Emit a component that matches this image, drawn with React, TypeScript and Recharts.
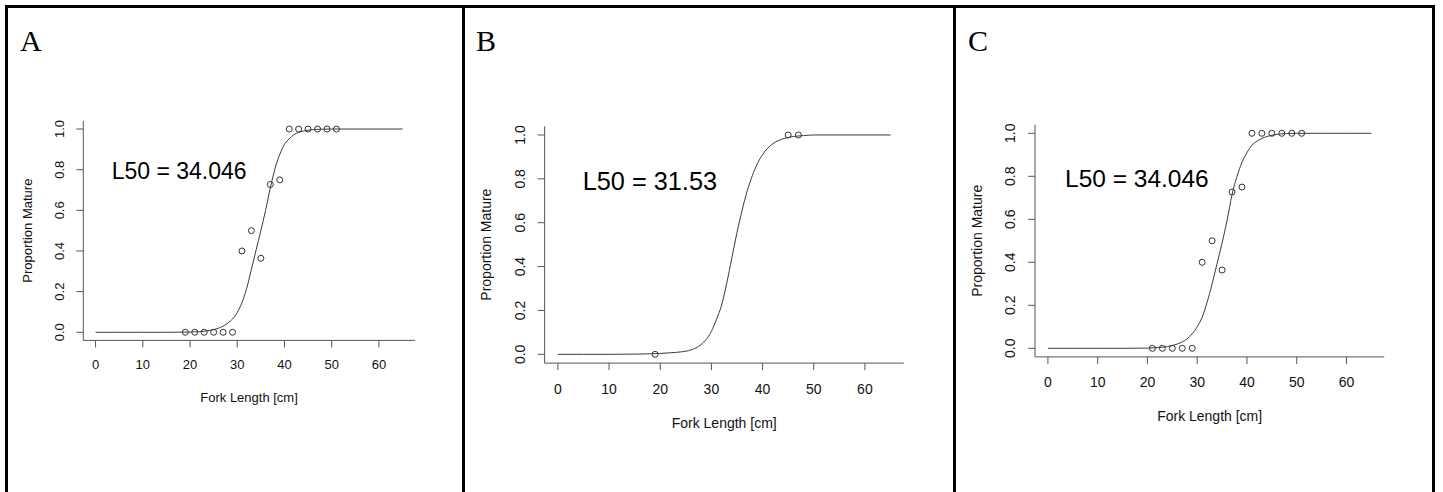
import React from 'react';
import { ComposedChart, Line, Scatter, XAxis, YAxis } from 'recharts';

const xTicks = [0, 10, 20, 30, 40, 50, 60];
const yTicks = [0, 0.2, 0.4, 0.6, 0.8, 1];

// fitted curves
const curveX = [0, 5, 10, 15, 20, 22, 24, 26, 28, 30, 31, 32, 33, 34, 35, 36, 37, 38, 39, 40, 41, 42, 44, 46, 48, 50, 55, 60, 65];
const curveA = [0, 0, 0, 0, 0.001, 0.003, 0.008, 0.02, 0.045, 0.097, 0.146, 0.216, 0.31, 0.405, 0.5, 0.6, 0.71, 0.805, 0.875, 0.925, 0.952, 0.972, 0.99, 0.997, 0.999, 1, 1, 1, 1];
const curveB = [0, 0, 0, 0.001, 0.004, 0.007, 0.011, 0.02, 0.045, 0.105, 0.16, 0.225, 0.325, 0.44, 0.555, 0.657, 0.745, 0.815, 0.87, 0.91, 0.94, 0.96, 0.983, 0.993, 0.997, 1, 1, 1, 1];
const curveC = [0, 0, 0, 0, 0.001, 0.003, 0.008, 0.02, 0.045, 0.1, 0.145, 0.215, 0.3, 0.395, 0.49, 0.595, 0.715, 0.8, 0.865, 0.91, 0.945, 0.963, 0.985, 0.995, 0.999, 1, 1, 1, 1];

// observed proportions
const obsXA = [19, 21, 23, 25, 27, 29, 31, 33, 35, 37, 39, 41, 43, 45, 47, 49, 51];
const obsYA = [0, 0, 0, 0, 0, 0, 0.4, 0.5, 0.364, 0.727, 0.75, 1, 1, 1, 1, 1, 1];
const obsXB = [19, 45, 47];
const obsYB = [0, 1, 1];
const obsXC = [21, 23, 25, 27, 29, 31, 33, 35, 37, 39, 41, 43, 45, 47, 49, 51];
const obsYC = [0, 0, 0, 0, 0, 0.4, 0.5, 0.364, 0.727, 0.75, 1, 1, 1, 1, 1, 1];

const zip = (xs: number[], ys: number[]) => xs.map((x, i) => ({ x, y: ys[i] }));

const AX = '#555';
const INK = '#111';
const SANS = '"Liberation Sans", Arial, sans-serif';

interface PanelProps {
  letter: string;
  l50: string;
  curve: number[];
  obsX: number[];
  obsY: number[];
  x0: number; // left edge of chart box on page
  w: number;
  plot: { l: number; r: number; t: number; b: number };
  font: number;
  xLabDy: number;
  yLabDx: number;
  xTitleY: number;
  yTitleX: number;
  l50Pos: { x: number; y: number; size: number };
  letterX: number;
}

function Panel(p: PanelProps) {
  const H = 492;
  const yW = 40;
  const xH = 30;
  const margin = {
    top: p.plot.t,
    bottom: H - p.plot.b - xH,
    left: p.plot.l - p.x0 - yW,
    right: p.x0 + p.w - p.plot.r,
  };
  const midX = (p.plot.l + p.plot.r) / 2 - p.x0;
  const midY = (p.plot.t + p.plot.b) / 2;

  const XTick = (t: any) => (
    <text x={t.x} y={t.y + p.xLabDy} textAnchor="middle" dominantBaseline="central"
      fontFamily={SANS} fontSize={p.font} fill={INK}>
      {t.payload.value}
    </text>
  );
  const YTick = (t: any) => {
    const cx = t.x + p.yLabDx;
    return (
      <text x={cx} y={t.y} transform={`rotate(-90, ${cx}, ${t.y})`} textAnchor="middle"
        dominantBaseline="central" fontFamily={SANS} fontSize={p.font} fill={INK}>
        {Number(t.payload.value).toFixed(1)}
      </text>
    );
  };

  return (
    <div style={{ position: 'absolute', left: p.x0, top: 0, width: p.w, height: H }}>
      <ComposedChart width={p.w} height={H} margin={margin}>
        <XAxis type="number" dataKey="x" domain={[-2.6, 67.6]} ticks={xTicks} allowDataOverflow
          height={xH} stroke={AX} tickSize={7} tickLine={{ stroke: AX }} tick={XTick} interval={0} />
        <YAxis type="number" dataKey="y" domain={[-0.04, 1.04]} ticks={yTicks} allowDataOverflow
          width={yW} stroke={AX} tickSize={7} tickLine={{ stroke: AX }} tick={YTick} interval={0} />
        <Line data={zip(curveX, p.curve)} dataKey="y" type="monotone" dot={false} stroke="#3a3a3a"
          strokeWidth={1} isAnimationActive={false} />
        <Scatter data={zip(p.obsX, p.obsY)} dataKey="y" isAnimationActive={false}
          shape={(s: any) => <circle cx={s.cx} cy={s.cy} r={3} fill="none" stroke="#333" strokeWidth={1} />} />
      </ComposedChart>
      <svg width={p.w} height={H} style={{ position: 'absolute', left: 0, top: 0, pointerEvents: 'none' }}>
        <text x={p.letterX - p.x0} y={50.5} fontFamily='"Liberation Serif", "Times New Roman", serif'
          fontSize={30} fill="#000">{p.letter}</text>
        <text x={p.l50Pos.x - p.x0} y={p.l50Pos.y} dominantBaseline="central" fontFamily={SANS}
          fontSize={p.l50Pos.size} fill="#000">{p.l50}</text>
        <text x={midX} y={p.xTitleY} textAnchor="middle" dominantBaseline="central" fontFamily={SANS}
          fontSize={p.font} fill={INK}>Fork Length [cm]</text>
        <text x={p.yTitleX - p.x0} y={midY} transform={`rotate(-90, ${p.yTitleX - p.x0}, ${midY})`}
          textAnchor="middle" dominantBaseline="central" fontFamily={SANS} fontSize={p.font} fill={INK}>
          Proportion Mature
        </text>
      </svg>
    </div>
  );
}

export default function App() {
  const border = (l: number, t: number, w: number, h: number) => (
    <div style={{ position: 'absolute', left: l, top: t, width: w, height: h, background: '#000' }} />
  );
  return (
    <div style={{ position: 'absolute', left: 0, top: 0, width: 1443, height: 492, background: '#fff', overflow: 'hidden' }}>
      <Panel letter="A" l50="L50 = 34.046" curve={curveA} obsX={obsXA} obsY={obsYA}
        x0={8} w={454} plot={{ l: 83.3, r: 414.8, t: 120.9, b: 340.4 }} font={13}
        xLabDy={14.6} yLabDx={-14.3} xTitleY={397} yTitleX={28}
        l50Pos={{ x: 111.7, y: 171, size: 23 }} letterX={20} />
      <Panel letter="B" l50="L50 = 31.53" curve={curveB} obsX={obsXB} obsY={obsYB}
        x0={465} w={488} plot={{ l: 544.6, r: 903.8, t: 126.2, b: 363.1 }} font={14}
        xLabDy={16.9} yLabDx={-15.5} xTitleY={423.3} yTitleX={486}
        l50Pos={{ x: 582.7, y: 180.5, size: 25.3 }} letterX={476} />
      <Panel letter="C" l50="L50 = 34.046" curve={curveC} obsX={obsXC} obsY={obsYC}
        x0={956} w={476} plot={{ l: 1035, r: 1384.3, t: 124.7, b: 356.9 }} font={14}
        xLabDy={16.3} yLabDx={-15.7} xTitleY={415.7} yTitleX={977.3}
        l50Pos={{ x: 1065, y: 178, size: 24.5 }} letterX={968} />
      {border(5, 5, 1430, 3)}
      {border(5, 5, 3, 487)}
      {border(462, 5, 3, 487)}
      {border(953, 5, 3, 487)}
      {border(1432, 5, 3, 487)}
    </div>
  );
}
